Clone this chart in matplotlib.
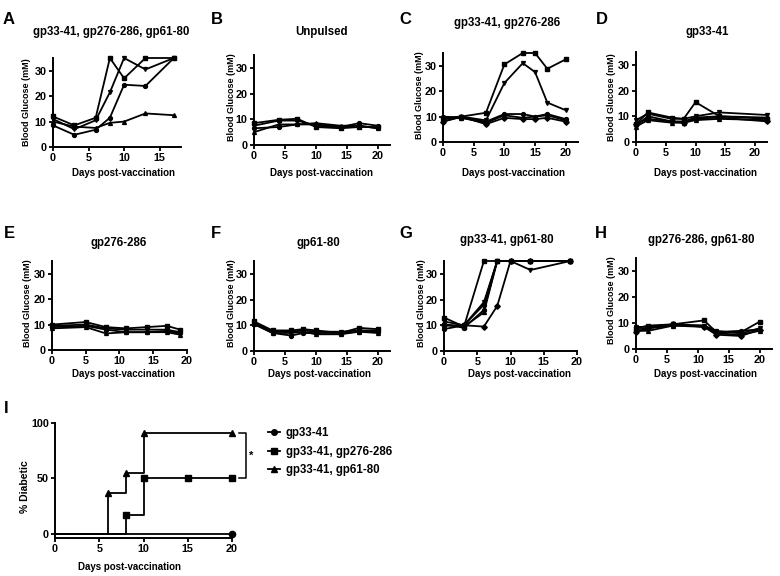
import matplotlib
matplotlib.use('Agg')
import matplotlib.pyplot as plt

plt.rcParams['font.family'] = ['Liberation Sans', 'DejaVu Sans']
plt.rcParams['font.weight'] = 'bold'

W, H = 780, 576

# blood glucose (mM) per mouse, one list per line
days_a = [0, 3, 6, 8, 10, 13, 17]
glucose_a = [
    [12, 8.5, 11.5, 35, 27, 35, 35],
    [11, 7, 10.5, 21.5, 35, 30.5, 35],
    [8.5, 4.8, 6.8, 11.5, 24.5, 24, 35],
    [10, 8, 7.5, 9.5, 10, 13.2, 12.5],
]

days_b = [0, 4, 7, 10, 14, 17, 20]
glucose_b = [
    [8.5, 9.8, 10.2, 7, 6.5, 7, 7],
    [7.5, 9.5, 9.5, 7.5, 7, 7.5, 6.5],
    [6.5, 7, 8, 8, 7, 8.5, 7.5],
    [5, 8, 8, 8.5, 7.5, 7.5, 6.5],
]

days_c = [0, 3, 7, 10, 13, 15, 17, 20]
glucose_c = [
    [9.5, 10, 11.5, 30.5, 35, 35, 28.8, 32.5],
    [8, 10, 8.5, 23.2, 31, 27.5, 15.5, 12.5],
    [10, 9.5, 8, 11, 11, 10, 11, 9],
    [9, 9.5, 7.5, 10.5, 9.5, 10, 10.5, 8.5],
    [8, 10, 7, 9.5, 9, 9, 9.5, 8],
]

days_d = [0, 2, 6, 8, 10, 14, 22]
glucose_d = [
    [7, 11.5, 9.5, 9, 15.5, 10, 9],
    [8.5, 11, 9, 9, 10, 11.5, 10.5],
    [6.5, 10, 8, 8, 9.5, 10, 9.5],
    [6, 8.5, 7.5, 7.5, 8.5, 9, 8.5],
    [7, 9, 8, 7.5, 9, 9.5, 8],
]

days_e = [0, 5, 8, 11, 14, 17, 19]
glucose_e = [
    [10, 11, 9, 8.5, 9, 9.5, 8],
    [9.5, 10, 8.5, 8, 8, 8, 7],
    [9, 9.5, 8, 7, 7, 7.5, 6.5],
    [8.5, 9, 6.5, 7, 7, 7, 6],
]

days_f = [0, 3, 6, 8, 10, 14, 17, 20]
glucose_f = [
    [11.5, 8, 8, 8.5, 8, 7, 9, 8.5],
    [11, 7.5, 7.5, 8, 7.5, 7.5, 8, 8],
    [10.5, 7, 6, 7, 7, 7, 7.5, 7.5],
    [10.5, 7, 7, 7.5, 6.5, 6.5, 7.5, 7],
]

days_g = [0, 3, 6, 8, 10, 13, 19]
glucose_g = [
    [13, 9.5, 35, 35, 35, 35, 35],
    [11.5, 10, 19, 35, 35, 31.5, 35],
    [10.5, 9, 16, 35, 35, 35, 35],
    [10, 9.5, 15, 35, 35, 35, 35],
    [10, 10, 9.5, 17.5, 35, 35, 35],
    [8.5, 10, 18, 35, 35, 35, 35],
]

days_h = [0, 2, 6, 11, 13, 17, 20]
glucose_h = [
    [8, 9, 9.5, 11, 6.5, 6.5, 10.5],
    [8.5, 8.5, 9.5, 9, 7, 6, 8],
    [7.5, 8, 9, 8.5, 6.5, 7, 7.5],
    [7, 7, 9, 9, 6, 5.5, 7],
    [6.5, 8, 9.5, 8.5, 5.5, 5, 7.5],
]

titles = ['gp33-41, gp276-286, gp61-80', 'Unpulsed', 'gp33-41, gp276-286', 'gp33-41',
          'gp276-286', 'gp61-80', 'gp33-41, gp61-80', 'gp276-286, gp61-80']
letters = ['A', 'B', 'C', 'D', 'E', 'F', 'G', 'H']
all_days = [days_a, days_b, days_c, days_d, days_e, days_f, days_g, days_h]
all_glucose = [glucose_a, glucose_b, glucose_c, glucose_d, glucose_e, glucose_f, glucose_g, glucose_h]
xmax = [18, 22, 22, 22, 20, 22, 20, 22]

# survival (% diabetic) for panel I
surv_labels = ['gp33-41', 'gp33-41, gp276-286', 'gp33-41, gp61-80']
surv_days = [[0, 20], [0, 8, 10, 15, 20], [0, 6, 8, 10, 20]]
surv_pct = [[0, 0], [0, 16.7, 50, 50, 50], [0, 36.4, 54.5, 90.9, 90.9]]
surv_markers = ['o', 's', '^']

# layout in pixels: (left, right, top, bottom) and text spots
rects = [(53, 181, 58, 147), (254, 390, 55, 145), (443, 578, 53, 142), (636, 767, 52, 142),
         (52, 187, 261, 350), (254, 390, 261, 351), (444, 577, 261, 351), (636, 772, 258, 349)]
title_pos = [(111, 32), (321, 32), (507, 23), (707, 32),
             (119, 243), (318, 243), (507, 240), (701, 240)]
xlab_pos = [(123, 173), (322, 173), (513, 173), (705, 173),
            (124, 374), (320, 374), (520, 374), (705, 374)]
ylab_pos = [(27, 102), (231, 97), (420, 95), (612, 97),
            (28, 303), (231, 303), (421, 303), (612, 300)]
letter_pos = [(3, 12), (211, 12), (399, 12), (596, 12),
              (4, 226), (211, 226), (399, 226), (595, 226)]

line_markers = ['s', 'v', 'o', '^', 'D', 'o']


def add_axes_px(fig, left, right, top, bottom):
    return fig.add_axes([left / W, 1 - bottom / H, (right - left) / W, (bottom - top) / H])


def style_axes(ax):
    for s in ['top', 'right']:
        ax.spines[s].set_visible(False)
    for s in ['left', 'bottom']:
        ax.spines[s].set_linewidth(1.4)
    ax.tick_params(direction='out', length=3, width=1.3, labelsize=7.8, pad=1.5)
    for lab in ax.get_xticklabels() + ax.get_yticklabels():
        lab.set_fontweight('bold')


def ftext(fig, x, y, s, **kw):
    fig.text(x / W, 1 - y / H, s, **kw)


fig = plt.figure(figsize=(W / 100, H / 100), dpi=100)

for i in range(8):
    ax = add_axes_px(fig, *rects[i])
    for j, vals in enumerate(all_glucose[i]):
        ax.plot(all_days[i], vals, color='black', lw=1.3,
                marker=line_markers[j % len(line_markers)], ms=2.8, clip_on=False)
    ax.set_xlim(0, xmax[i])
    ax.set_ylim(0, 35)
    ax.set_xticks([0, 5, 10, 15] if xmax[i] < 19 else [0, 5, 10, 15, 20])
    ax.set_yticks([0, 10, 20, 30])
    style_axes(ax)
    ftext(fig, *title_pos[i], titles[i], ha='center', va='center', fontsize=8.3, fontweight='bold')
    ftext(fig, *xlab_pos[i], 'Days post-vaccination', ha='center', va='center', fontsize=7, fontweight='bold')
    ftext(fig, *ylab_pos[i], 'Blood Glucose (mM)', ha='center', va='center', rotation=90,
          fontsize=6.5, fontweight='bold')
    ftext(fig, *letter_pos[i], letters[i], ha='left', va='top', fontsize=12, fontweight='bold')

# panel I
ax = add_axes_px(fig, 55, 232, 423, 538)
for lab, d, p, m in zip(surv_labels, surv_days, surv_pct, surv_markers):
    ax.step(d, p, where='post', color='black', lw=1.3, clip_on=False)
    ax.plot(d[1:], p[1:], ls='none', marker=m, color='black', ms=4.5, clip_on=False)
    ax.plot([], [], color='black', lw=1.3, marker=m, ms=4, label=lab)
ax.set_xlim(0, 20)
ax.set_ylim(-4, 100)
ax.set_xticks([0, 5, 10, 15, 20])
ax.set_yticks([0, 50, 100])
style_axes(ax)

# significance bracket
ax.plot([20.8, 21.6, 21.6, 20.8], [90.9, 90.9, 50, 50], color='black', lw=1.1, clip_on=False)
ax.text(22.2, 70, '*', ha='center', va='center', fontsize=8, fontweight='bold')

ax.legend(loc='upper left', bbox_to_anchor=(258 / W, 1 - 417 / H), bbox_transform=fig.transFigure,
          frameon=False, handlelength=1.0, handletextpad=0.5, labelspacing=0.55,
          prop={'size': 8.3, 'weight': 'bold'})

ftext(fig, 130, 567, 'Days post-vaccination', ha='center', va='center', fontsize=7, fontweight='bold')
ftext(fig, 25, 487, '% Diabetic', ha='center', va='center', rotation=90, fontsize=7.5, fontweight='bold')
ftext(fig, 4, 401, 'I', ha='left', va='top', fontsize=12, fontweight='bold')

fig.savefig('out.png', dpi=100)
